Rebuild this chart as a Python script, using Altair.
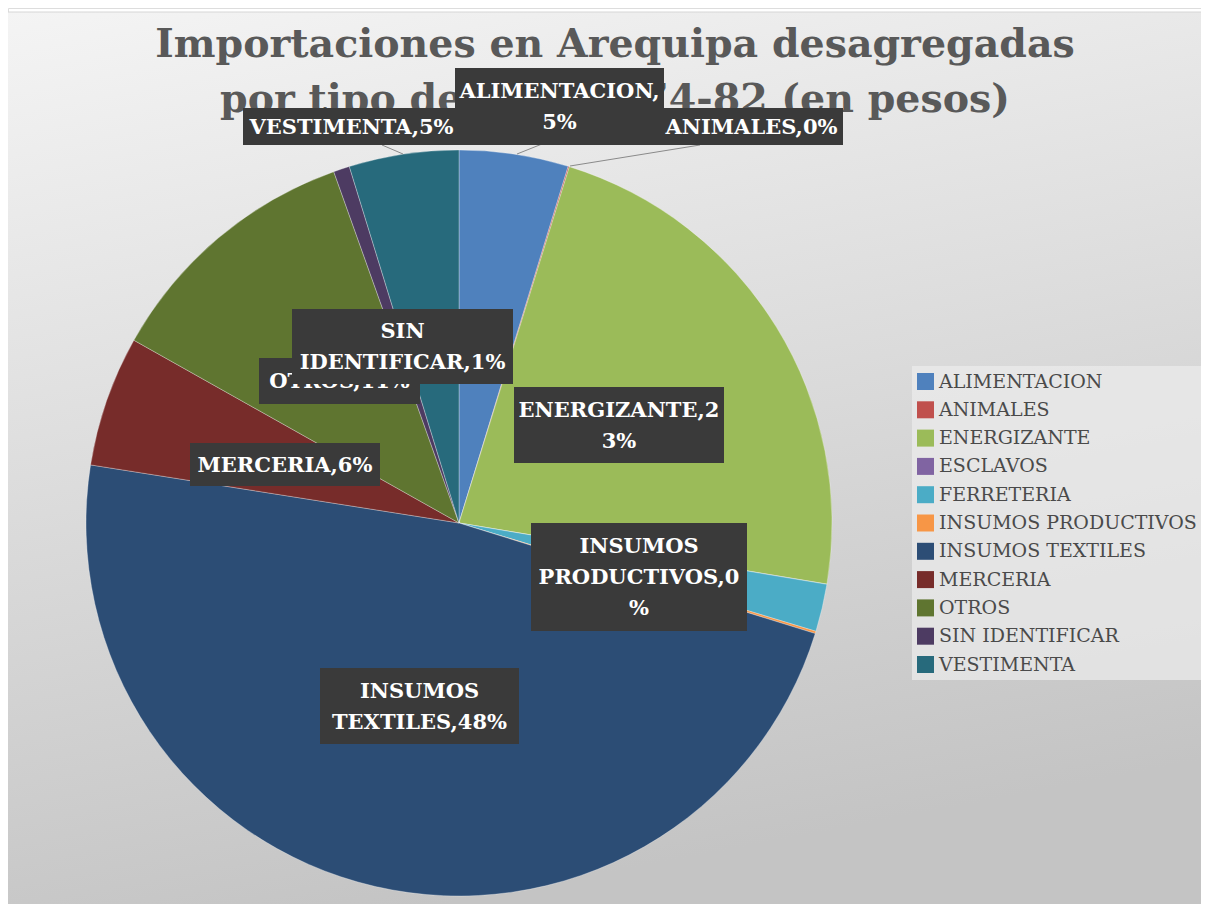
import altair as alt
import pandas as pd

# ---- data -------------------------------------------------------------
categories = ["ALIMENTACION", "ANIMALES", "ENERGIZANTE", "ESCLAVOS", "FERRETERIA",
              "INSUMOS PRODUCTIVOS", "INSUMOS TEXTILES", "MERCERIA", "OTROS",
              "SIN IDENTIFICAR", "VESTIMENTA"]
shares = [4.73, 0.05, 22.84, 0.01, 2.06, 0.1, 47.7, 5.66, 11.4, 0.7, 4.75]
colors = ["#4F81BD", "#C0504D", "#9BBB59", "#8064A2", "#4BACC6", "#F79646",
          "#2C4D75", "#772C2A", "#5F7530", "#4D3B62", "#276A7C"]
title_lines = ["Importaciones en Arequipa desagregadas",
               "por tipo de bien 1774-82 (en pesos)"]

# ---- layout (page pixels) ---------------------------------------------
CX, CY, R = 459, 523, 373
LH = 31
label_cats = ["OTROS", "VESTIMENTA", "ALIMENTACION", "ANIMALES", "SIN IDENTIFICAR",
              "ENERGIZANTE", "MERCERIA", "INSUMOS PRODUCTIVOS", "INSUMOS TEXTILES"]
label_layer = [0, 1, 1, 1, 1, 1, 1, 1, 1]
label_boxes = [(259, 358, 420, 404), (243, 108, 460, 145), (455, 68, 664, 145),
               (660, 108, 843, 145), (292, 309, 513, 384), (514, 387, 724, 463),
               (190, 443, 380, 486), (531, 523, 747, 631), (320, 668, 519, 744)]
label_wrap = [30, 30, 13, 30, 14, 13, 30, 13, 13]
leaders = [(382, 145, 403, 154), (542, 144, 517, 154), (700, 145, 570, 166)]


def wrap(text, width):
    lines, cur = [], ""
    for word in text.split(" "):
        cand = word if not cur else cur + " " + word
        if len(cand) <= width:
            cur = cand
            continue
        if cur:
            lines.append(cur)
            cur = ""
        while len(word) > width:
            lines.append(word[:width])
            word = word[width:]
        cur = word
    if cur:
        lines.append(cur)
    return lines


pie_df = pd.DataFrame({"cat": categories, "share": shares,
                       "idx": list(range(len(categories)))})

share_of = dict(zip(categories, shares))
lab_rows = []
for c, z, (x1, y1, x2, y2), w in zip(label_cats, label_layer, label_boxes, label_wrap):
    lines = wrap(f"{c},{round(share_of[c]):d}%", w)
    ym = (y1 + y2) / 2 - (len(lines) - 1) * LH / 2 + 1
    lab_rows.append({"cat": c, "z": z, "x1": x1, "y1": y1, "x2": x2, "y2": y2,
                     "xm": (x1 + x2) / 2, "ym": ym, "text": "\n".join(lines)})
lab_df = pd.DataFrame(lab_rows)

lead_df = pd.DataFrame([{"x1": a, "y1": b, "x2": c, "y2": d} for a, b, c, d in leaders])
title_df = pd.DataFrame({"t": title_lines, "x": [615, 615], "y": [45, 100]})

W, H = 1193, 896
XS = alt.Scale(domain=[8, 8 + W], range=[0, W])
YS = alt.Scale(domain=[8, 8 + H], range=[0, H])


def X(f):
    return alt.X(f, type="quantitative", scale=XS, axis=None)


def Y(f):
    return alt.Y(f, type="quantitative", scale=YS, axis=None)


bg = alt.Chart(pd.DataFrame({"x1": [5], "y1": [12], "x2": [1215], "y2": [930]})).mark_rect(
    fill=alt.Gradient(gradient="linear", x1=0, y1=0, x2=0.25, y2=1,
                      stops=[alt.GradientStop(color="#f4f4f4", offset=0),
                             alt.GradientStop(color="#c4c4c4", offset=1)]),
    stroke="#d6d6d6", strokeWidth=1
).encode(x=X("x1"), y=Y("y1"), x2="x2", y2="y2")

legbg = alt.Chart(pd.DataFrame({"x1": [912], "y1": [366], "x2": [1215], "y2": [680]})).mark_rect(
    fill="#ececec", opacity=0.7
).encode(x=X("x1"), y=Y("y1"), x2="x2", y2="y2")

pie = alt.Chart(pie_df).mark_arc(radius=R, stroke="#ffffff", strokeWidth=0.5, strokeOpacity=0.6).encode(
    theta=alt.Theta("share:Q", stack=True),
    order=alt.Order("idx:Q"),
    color=alt.Color("cat:N", scale=alt.Scale(domain=categories, range=colors),
                    legend=alt.Legend(orient="none", legendX=908, legendY=364, title=None,
                                      symbolType="square", symbolSize=289, symbolStrokeWidth=0,
                                      labelFont="DejaVu Serif", labelFontSize=19,
                                      labelColor="#4a4a4a", rowPadding=8.3, padding=0,
                                      labelOffset=4, labelLimit=400)),
    x=alt.value(CX - 8), y=alt.value(CY - 8)
)

lead = alt.Chart(lead_df).mark_rule(color="#8a8a8a", strokeWidth=1).encode(
    x=X("x1"), y=Y("y1"), x2="x2", y2="y2")

title = alt.Chart(title_df).mark_text(font="DejaVu Serif", fontWeight="bold", fontSize=39.5,
                                      color="#595959", align="center", baseline="middle").encode(
    x=X("x"), y=Y("y"), text="t:N")


def labels(z):
    d = lab_df[lab_df.z == z]
    box = alt.Chart(d).mark_rect(fill="#3a3a3a").encode(x=X("x1"), y=Y("y1"), x2="x2", y2="y2")
    txt = alt.Chart(d).mark_text(font="DejaVu Serif", fontWeight="bold", fontSize=21,
                                 color="#ffffff", align="center", baseline="middle",
                                 lineBreak="\n", lineHeight=LH).encode(
        x=X("xm"), y=Y("ym"), text="text:N")
    return [box, txt]


chart = alt.layer(bg, legbg, pie, lead, title, *labels(0), *labels(1)).properties(
    width=W, height=H, autosize=alt.AutoSizeParams(type="none"), padding=0
).configure_view(stroke=None).configure(background="#ffffff")

chart.save("out.html", embed_options={"renderer": "svg", "actions": False})
